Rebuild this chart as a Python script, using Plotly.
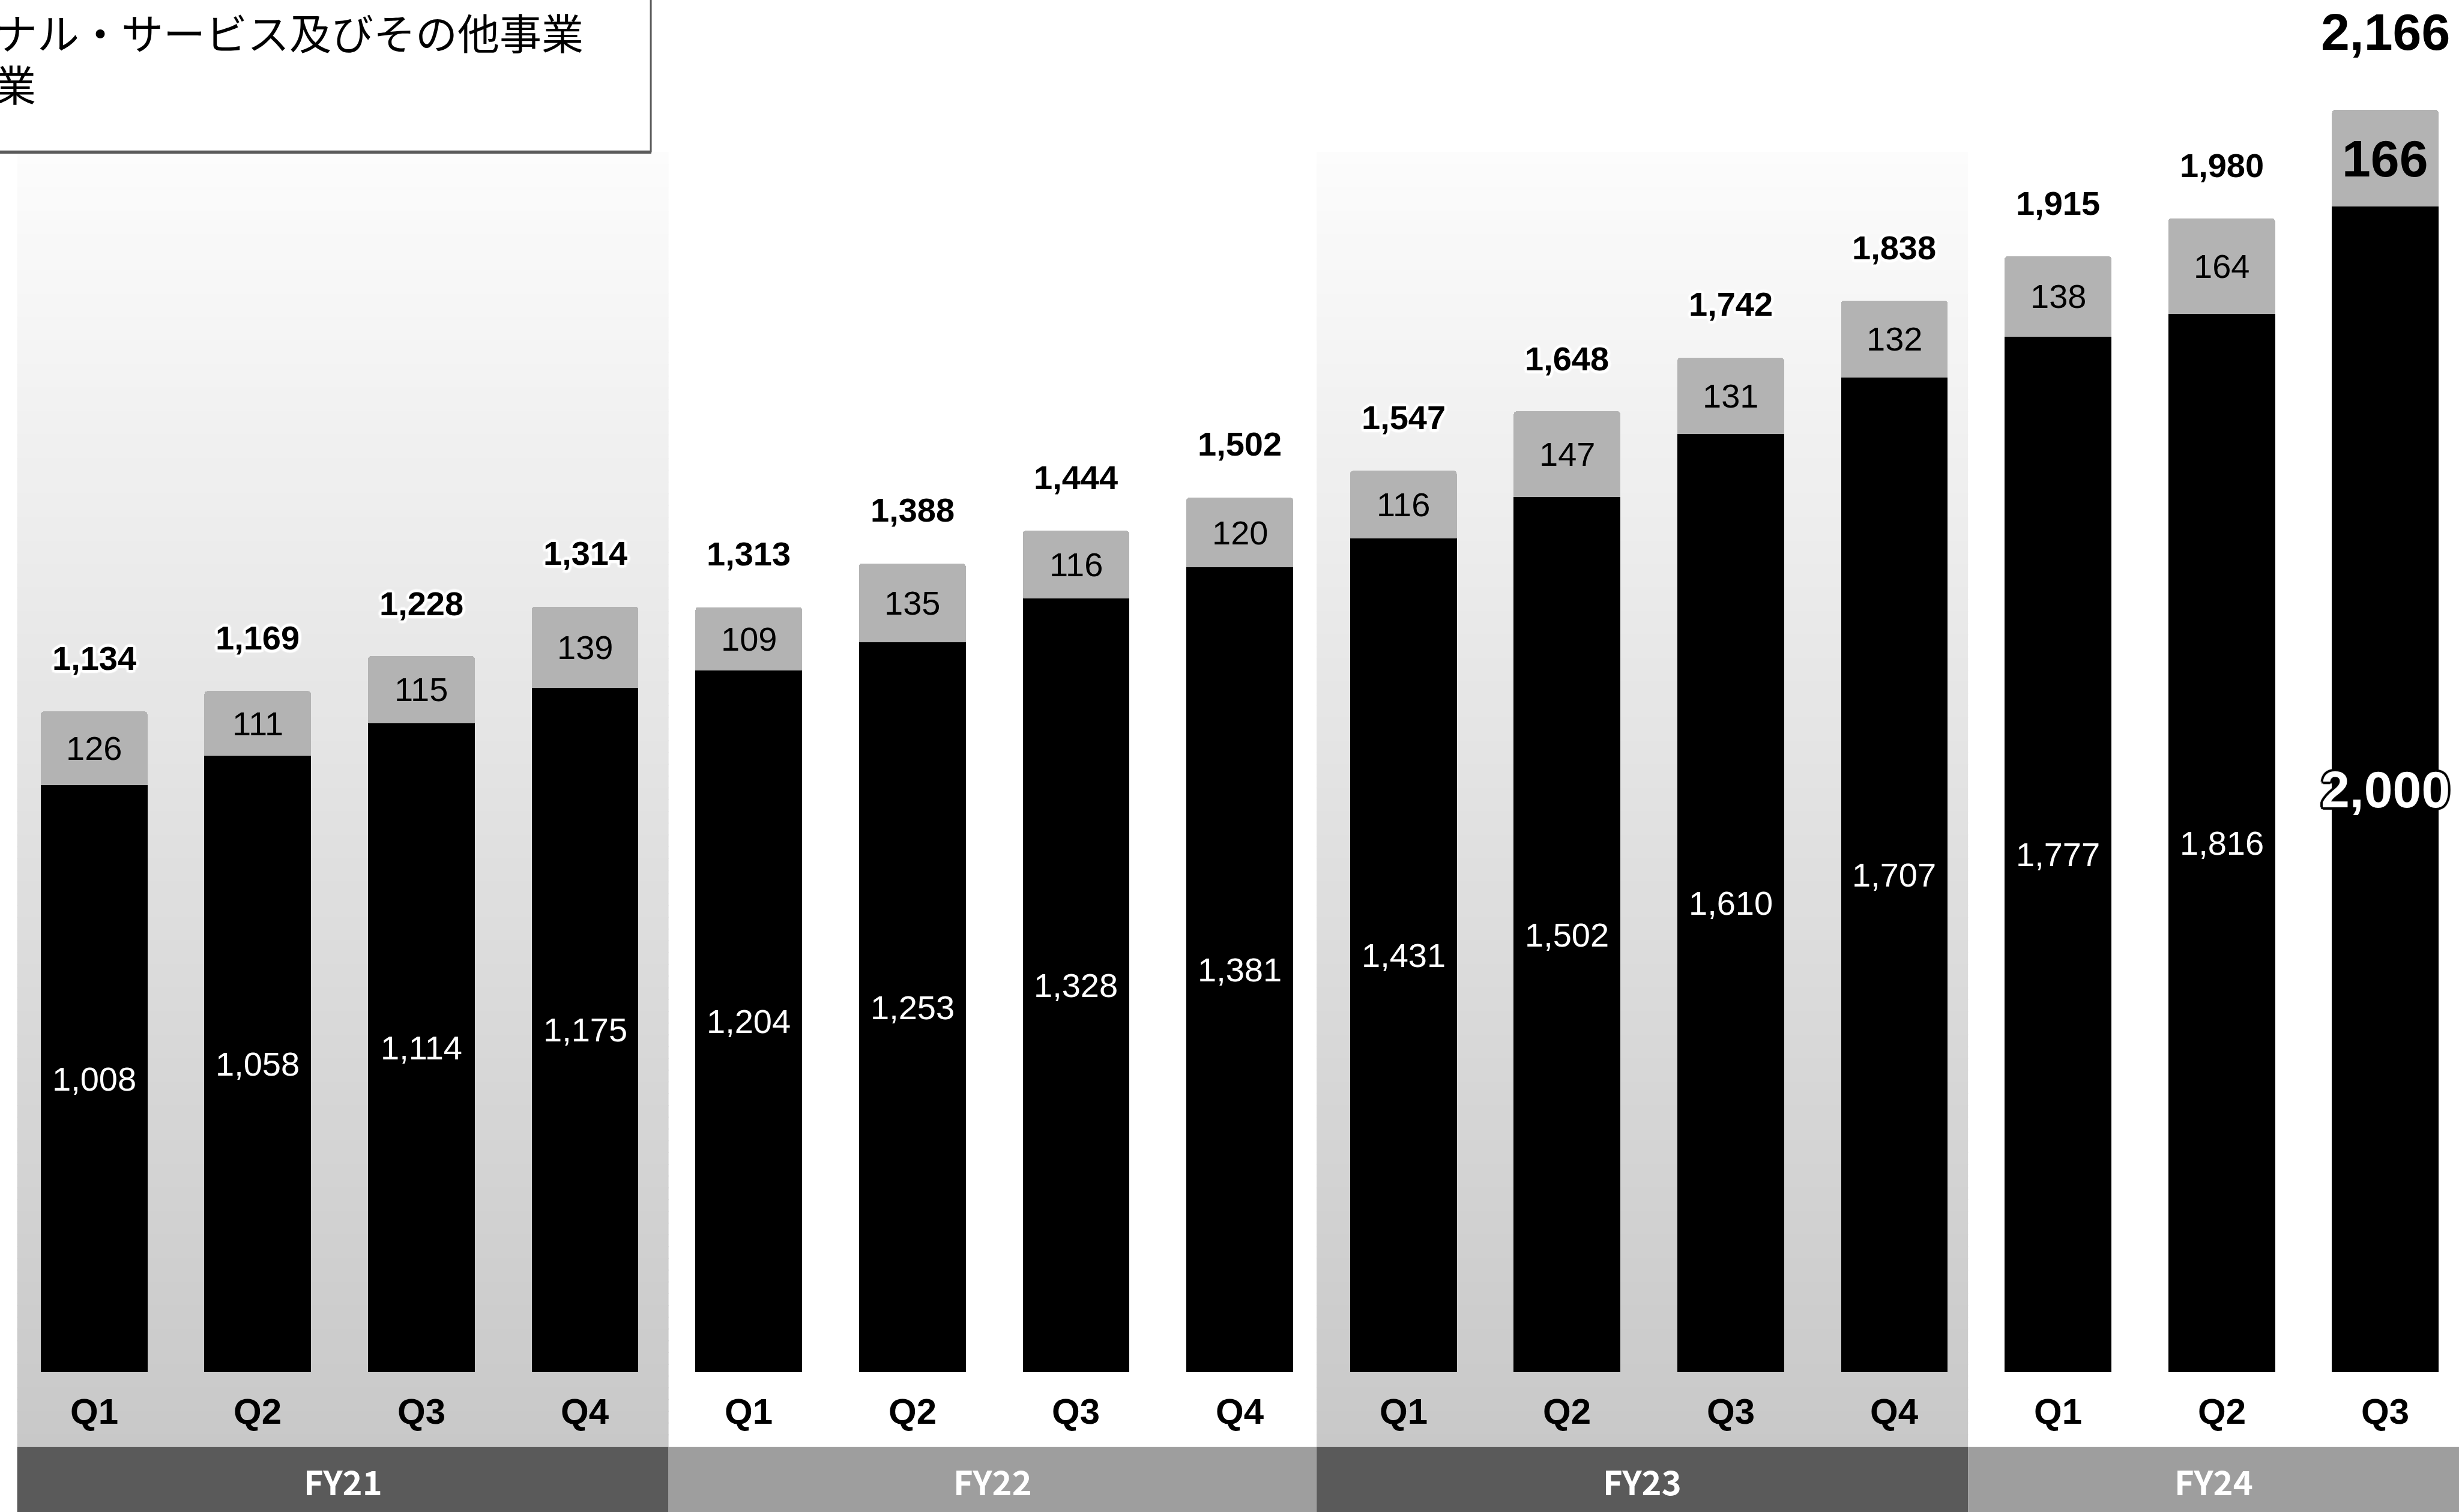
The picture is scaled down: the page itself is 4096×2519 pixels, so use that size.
import plotly.graph_objects as go

# ---------------- data ----------------
quarters = ["Q1", "Q2", "Q3", "Q4", "Q1", "Q2", "Q3", "Q4",
            "Q1", "Q2", "Q3", "Q4", "Q1", "Q2", "Q3"]
fiscal_years = ["FY21", "FY22", "FY23", "FY24"]
fy_quarter_counts = [4, 4, 4, 3]
main_business = [1008, 1058, 1114, 1175, 1204, 1253, 1328, 1381,
                 1431, 1502, 1610, 1707, 1777, 1816, 2000]
other_business = [126, 111, 115, 139, 109, 135, 116, 120,
                  116, 147, 131, 132, 138, 164, 166]
totals = [1134, 1169, 1228, 1314, 1313, 1388, 1444, 1502,
          1547, 1648, 1742, 1838, 1915, 1980, 2166]
legend_lines = ["ナル・サービス及びその他事業", "業"]

# ---------------- page geometry ----------------
W, H = 4096, 2519
S = W / 1568.0           # preview -> output scale


def py(p):               # preview-y (from top) -> paper fraction
    return 1 - p / 964.0


def px(p):               # preview-x -> paper fraction
    return p / 1568.0


n = len(quarters)
xs = list(range(n))
X_RANGE = [-0.575, 14.45]
Y_RANGE = [-239.5, 2354.7]

ARIAL = "Liberation Sans, Arial, sans-serif"
CJK = "Noto Sans CJK JP, Noto Sans, sans-serif"

fig = go.Figure()
fig.add_trace(go.Bar(x=xs, y=main_business, width=0.652,
                     marker=dict(color="#000000", line=dict(width=0)),
                     hoverinfo="skip", showlegend=False))
fig.add_trace(go.Bar(x=xs, y=other_business, width=0.652,
                     marker=dict(color="#b3b3b3", line=dict(width=0)),
                     hoverinfo="skip", showlegend=False))

shapes = []
# fiscal-year band boundaries (data x)
bounds = [-0.47, 3.51, 7.47, 11.45, X_RANGE[1] + 0.2]
grad_top, grad_bot = 97, 922           # preview y
N = 110
for b in range(4):
    x0, x1 = bounds[b], bounds[b + 1]
    if b % 2 == 0:
        for k in range(N):
            t0 = grad_top + (grad_bot - grad_top) * k / N
            t1 = grad_top + (grad_bot - grad_top) * (k + 1) / N
            f = (k + 0.5) / N
            c = round(252 - 52 * f)
            shapes.append(dict(type="rect", xref="x", yref="paper",
                               x0=x0, x1=x1, y0=py(t1 + 0.6), y1=py(t0),
                               fillcolor=f"rgb({c},{c},{c})",
                               line=dict(width=0), layer="below"))
    # fiscal-year bar at bottom
    col = "#5a5a5a" if b % 2 == 0 else "#9e9e9e"
    shapes.append(dict(type="rect", xref="x", yref="paper",
                       x0=x0, x1=x1, y0=-0.01, y1=py(922.6),
                       fillcolor=col, line=dict(width=0), layer="below"))

# legend box (clipped at top-left of the page)
shapes.append(dict(type="rect", xref="paper", yref="paper",
                   x0=-0.01, x1=px(415), y0=py(96.5), y1=1.02,
                   fillcolor="#ffffff", line=dict(color="#5a5a5a", width=3),
                   layer="above"))
shapes.append(dict(type="line", xref="paper", yref="paper",
                   x0=-0.01, x1=px(415.3), y0=py(97.2), y1=py(97.2),
                   line=dict(color="#5a5a5a", width=4), layer="above"))

annotations = []


def halo(color, r=5, blur=2):
    offs = [(r, 0), (-r, 0), (0, r), (0, -r),
            (r * 0.7, r * 0.7), (-r * 0.7, r * 0.7),
            (r * 0.7, -r * 0.7), (-r * 0.7, -r * 0.7)]
    return ", ".join(f"{dx:.1f}px {dy:.1f}px {blur}px {color}" for dx, dy in offs)


last = n - 1
for i in xs:
    big = (i == last)
    # total labels above each bar
    annotations.append(dict(
        x=i, y=totals[i], xref="x", yref="y", text=f"{totals[i]:,}",
        showarrow=False, yanchor="middle", xanchor="center",
        yshift=(50 if big else 34) * S,
        font=dict(family=ARIAL, size=86 if big else 56, color="#000000",
                  weight="bold", shadow=halo("#ffffff"))))
    # main business label (black segment)
    annotations.append(dict(
        x=i, y=main_business[i] / 2, xref="x", yref="y",
        text=f"{main_business[i]:,}", showarrow=False,
        yanchor="middle", xanchor="center",
        font=dict(family=ARIAL, size=86 if big else 56, color="#ffffff",
                  weight="bold" if big else "normal",
                  shadow=halo("#000000", r=4, blur=1) if big else "none")))
    # other business label (gray segment)
    annotations.append(dict(
        x=i, y=main_business[i] + other_business[i] / 2, xref="x", yref="y",
        text=f"{other_business[i]:,}", showarrow=False,
        yanchor="middle", xanchor="center",
        font=dict(family=ARIAL, size=86 if big else 56, color="#000000",
                  weight="bold" if big else "normal")))
    # quarter labels
    annotations.append(dict(
        x=i, y=py(900), xref="x", yref="paper", text=quarters[i],
        showarrow=False, yanchor="middle", xanchor="center",
        font=dict(family=ARIAL, size=60, color="#000000", weight="bold")))

# fiscal-year labels
for b, fy in enumerate(fiscal_years):
    x1 = bounds[b + 1] if b < 3 else X_RANGE[1]
    annotations.append(dict(
        x=(bounds[b] + x1) / 2, y=py(944), xref="x", yref="paper", text=fy,
        showarrow=False, yanchor="middle", xanchor="center",
        font=dict(family=CJK, size=56, color="#ffffff", weight="bold")))

# legend text (cut at the page edge like the reference)
annotations.append(dict(
    x=px(373), y=py(20), xref="paper", yref="paper", text=legend_lines[0],
    showarrow=False, xanchor="right", yanchor="middle",
    font=dict(family=CJK, size=70, color="#000000")))
annotations.append(dict(
    x=px(-4.5), y=py(53), xref="paper", yref="paper", text=legend_lines[1],
    showarrow=False, xanchor="left", yanchor="middle",
    font=dict(family=CJK, size=70, color="#000000")))

fig.update_layout(
    width=W, height=H, barmode="stack", barcornerradius=5,
    margin=dict(l=0, r=0, t=0, b=0, pad=0),
    paper_bgcolor="#ffffff", plot_bgcolor="#ffffff",
    xaxis=dict(range=X_RANGE, visible=False, fixedrange=True),
    yaxis=dict(range=Y_RANGE, visible=False, fixedrange=True),
    shapes=shapes, annotations=annotations, showlegend=False,
)

fig.write_html("out.html",
               config={"displayModeBar": False, "staticPlot": True},
               post_script="document.body.style.margin='0';"
                           "document.body.style.overflow='hidden';")
